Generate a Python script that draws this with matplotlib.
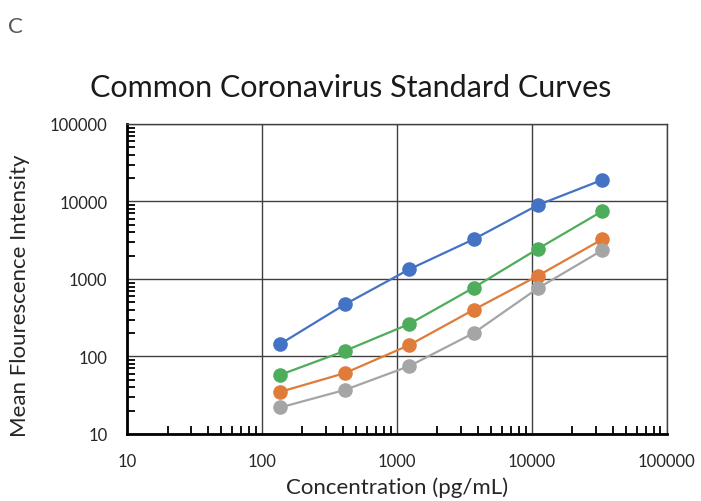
import matplotlib
matplotlib.use("Agg")
import matplotlib.pyplot as plt
from matplotlib.ticker import LogLocator, FixedLocator, NullFormatter

# Konzentrationen (3-fache Verdünnung) und Signale
conc = [137, 412, 1235, 3704, 11111, 33333]
blue_vals = [145, 470, 1330, 3250, 9000, 19000]
green_vals = [58, 118, 262, 770, 2450, 7500]
orange_vals = [35, 61, 140, 400, 1100, 3250]
gray_vals = [22, 37, 75, 200, 760, 2350]

series = [
    (blue_vals, "#4472C4"),
    (green_vals, "#4EAD5B"),
    (orange_vals, "#E07B39"),
    (gray_vals, "#A5A5A5"),
]

major_ticks = [10, 100, 1000, 10000, 100000]
tick_labels = ["10", "100", "1000", "10000", "100000"]

plt.rcParams["font.family"] = ["Lato", "DejaVu Sans"]

fig = plt.figure(figsize=(7.01, 5.02), dpi=100)
ax = fig.add_axes([0.181, 0.1335, 0.77, 0.6175])

for vals, col in series:
    ax.plot(conc, vals, color=col, lw=1.6, marker="o", ms=10.5,
            markeredgewidth=0, zorder=3)

ax.set_xscale("log")
ax.set_yscale("log")
ax.set_xlim(10, 100000)
ax.set_ylim(10, 100000)

ax.xaxis.set_major_locator(FixedLocator(major_ticks))
ax.yaxis.set_major_locator(FixedLocator(major_ticks))
ax.set_xticklabels(tick_labels)
ax.set_yticklabels(tick_labels)
for a in (ax.xaxis, ax.yaxis):
    a.set_minor_locator(LogLocator(base=10, subs=range(2, 10)))
    a.set_minor_formatter(NullFormatter())

ax.grid(True, which="major", color="#404040", lw=1.0, zorder=1)
ax.tick_params(which="both", direction="in", color="black", width=1.3,
               labelsize=12, labelcolor="#262626")
ax.tick_params(which="major", length=0)
ax.tick_params(axis="x", which="major", pad=14)
ax.tick_params(axis="y", which="major", pad=14)
ax.tick_params(which="minor", length=6)

for s in ("top", "right"):
    ax.spines[s].set_color("#404040")
    ax.spines[s].set_linewidth(1.0)
for s in ("left", "bottom"):
    ax.spines[s].set_color("black")
    ax.spines[s].set_linewidth(2.0)

ax.set_xlabel("Concentration (pg/mL)", fontsize=16, color="#262626")
ax.set_ylabel("Mean Flourescence Intensity", fontsize=16, color="#262626")
# Positionen der Achsentitel in Pixeln der Vorlage
ax.xaxis.set_label_coords(0.5, -0.17)
ax.yaxis.set_label_coords(-0.198, 0.45)
ax.xaxis.label.set_va("center")
ax.yaxis.label.set_va("center")

fig.text(0.5, 0.825, "Common Coronavirus Standard Curves", fontsize=22,
         color="#1a1a1a", ha="center", va="center")

fig.text(0.012, 0.935, "C", fontsize=16, color="#595959")

fig.savefig("out.png", dpi=100)
